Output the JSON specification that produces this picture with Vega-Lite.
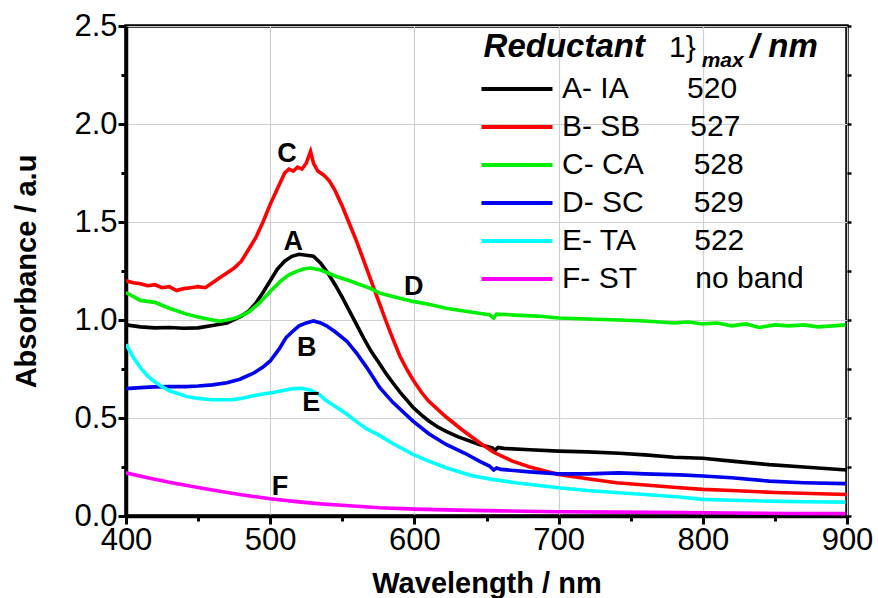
{
  "$schema": "https://vega.github.io/schema/vega-lite/v6.json",
  "width": 721,
  "height": 490,
  "autosize": {"type": "none"},
  "padding": {"left": 126, "top": 26, "right": 31, "bottom": 82},
  "background": "white",
  "config": {"view": {"stroke": "black", "strokeWidth": 3.5}, "font": "Liberation Sans"},
  "datasets": {
    "spectra": [
      {"r":"A- IA","w":400,"a":0.975},{"r":"A- IA","w":410,"a":0.965},{"r":"A- IA","w":420,"a":0.96},{"r":"A- IA","w":430,"a":0.962},{"r":"A- IA","w":440,"a":0.958},{"r":"A- IA","w":450,"a":0.96},{"r":"A- IA","w":460,"a":0.972},{"r":"A- IA","w":470,"a":0.985},{"r":"A- IA","w":480,"a":1.02},{"r":"A- IA","w":485,"a":1.045},{"r":"A- IA","w":490,"a":1.085},{"r":"A- IA","w":495,"a":1.14},{"r":"A- IA","w":500,"a":1.2},{"r":"A- IA","w":505,"a":1.26},{"r":"A- IA","w":510,"a":1.3},{"r":"A- IA","w":515,"a":1.325},{"r":"A- IA","w":520,"a":1.335},{"r":"A- IA","w":525,"a":1.33},{"r":"A- IA","w":530,"a":1.325},{"r":"A- IA","w":535,"a":1.29},{"r":"A- IA","w":540,"a":1.24},{"r":"A- IA","w":545,"a":1.18},{"r":"A- IA","w":550,"a":1.115},{"r":"A- IA","w":555,"a":1.045},{"r":"A- IA","w":560,"a":0.975},{"r":"A- IA","w":565,"a":0.905},{"r":"A- IA","w":570,"a":0.84},{"r":"A- IA","w":576,"a":0.775},{"r":"A- IA","w":580,"a":0.73},{"r":"A- IA","w":585,"a":0.68},{"r":"A- IA","w":590,"a":0.632},{"r":"A- IA","w":599,"a":0.555},{"r":"A- IA","w":605,"a":0.515},{"r":"A- IA","w":610,"a":0.485},{"r":"A- IA","w":616,"a":0.455},{"r":"A- IA","w":622,"a":0.432},{"r":"A- IA","w":630,"a":0.405},{"r":"A- IA","w":645,"a":0.365},{"r":"A- IA","w":654,"a":0.348},{"r":"A- IA","w":656,"a":0.335},{"r":"A- IA","w":658,"a":0.35},{"r":"A- IA","w":662,"a":0.345},{"r":"A- IA","w":680,"a":0.338},{"r":"A- IA","w":700,"a":0.331},{"r":"A- IA","w":720,"a":0.327},{"r":"A- IA","w":742,"a":0.32},{"r":"A- IA","w":760,"a":0.312},{"r":"A- IA","w":780,"a":0.3},{"r":"A- IA","w":800,"a":0.295},{"r":"A- IA","w":820,"a":0.28},{"r":"A- IA","w":846,"a":0.262},{"r":"A- IA","w":870,"a":0.25},{"r":"A- IA","w":900,"a":0.235},
      {"r":"B- SB","w":400,"a":1.2},{"r":"B- SB","w":405,"a":1.19},{"r":"B- SB","w":410,"a":1.185},{"r":"B- SB","w":415,"a":1.175},{"r":"B- SB","w":420,"a":1.18},{"r":"B- SB","w":425,"a":1.165},{"r":"B- SB","w":430,"a":1.17},{"r":"B- SB","w":435,"a":1.15},{"r":"B- SB","w":440,"a":1.16},{"r":"B- SB","w":445,"a":1.165},{"r":"B- SB","w":450,"a":1.17},{"r":"B- SB","w":455,"a":1.165},{"r":"B- SB","w":460,"a":1.19},{"r":"B- SB","w":465,"a":1.215},{"r":"B- SB","w":470,"a":1.24},{"r":"B- SB","w":475,"a":1.265},{"r":"B- SB","w":480,"a":1.3},{"r":"B- SB","w":485,"a":1.36},{"r":"B- SB","w":490,"a":1.42},{"r":"B- SB","w":495,"a":1.5},{"r":"B- SB","w":500,"a":1.59},{"r":"B- SB","w":505,"a":1.67},{"r":"B- SB","w":510,"a":1.75},{"r":"B- SB","w":513,"a":1.77},{"r":"B- SB","w":516,"a":1.76},{"r":"B- SB","w":519,"a":1.78},{"r":"B- SB","w":522,"a":1.77},{"r":"B- SB","w":525,"a":1.8},{"r":"B- SB","w":528,"a":1.86},{"r":"B- SB","w":530,"a":1.8},{"r":"B- SB","w":533,"a":1.76},{"r":"B- SB","w":537,"a":1.74},{"r":"B- SB","w":541,"a":1.71},{"r":"B- SB","w":545,"a":1.66},{"r":"B- SB","w":550,"a":1.58},{"r":"B- SB","w":555,"a":1.49},{"r":"B- SB","w":560,"a":1.4},{"r":"B- SB","w":565,"a":1.3},{"r":"B- SB","w":570,"a":1.2},{"r":"B- SB","w":576,"a":1.08},{"r":"B- SB","w":580,"a":1.0},{"r":"B- SB","w":585,"a":0.905},{"r":"B- SB","w":590,"a":0.815},{"r":"B- SB","w":595,"a":0.745},{"r":"B- SB","w":599,"a":0.695},{"r":"B- SB","w":605,"a":0.63},{"r":"B- SB","w":610,"a":0.585},{"r":"B- SB","w":622,"a":0.505},{"r":"B- SB","w":633,"a":0.44},{"r":"B- SB","w":645,"a":0.375},{"r":"B- SB","w":655,"a":0.325},{"r":"B- SB","w":668,"a":0.28},{"r":"B- SB","w":680,"a":0.25},{"r":"B- SB","w":700,"a":0.212},{"r":"B- SB","w":720,"a":0.19},{"r":"B- SB","w":740,"a":0.17},{"r":"B- SB","w":760,"a":0.158},{"r":"B- SB","w":784,"a":0.144},{"r":"B- SB","w":800,"a":0.136},{"r":"B- SB","w":820,"a":0.13},{"r":"B- SB","w":850,"a":0.12},{"r":"B- SB","w":875,"a":0.115},{"r":"B- SB","w":900,"a":0.11},
      {"r":"C- CA","w":400,"a":1.14},{"r":"C- CA","w":410,"a":1.1},{"r":"C- CA","w":420,"a":1.09},{"r":"C- CA","w":430,"a":1.06},{"r":"C- CA","w":442,"a":1.03},{"r":"C- CA","w":450,"a":1.015},{"r":"C- CA","w":460,"a":1.0},{"r":"C- CA","w":465,"a":0.993},{"r":"C- CA","w":470,"a":1.0},{"r":"C- CA","w":477,"a":1.012},{"r":"C- CA","w":485,"a":1.04},{"r":"C- CA","w":493,"a":1.09},{"r":"C- CA","w":500,"a":1.145},{"r":"C- CA","w":507,"a":1.197},{"r":"C- CA","w":513,"a":1.23},{"r":"C- CA","w":518,"a":1.247},{"r":"C- CA","w":523,"a":1.26},{"r":"C- CA","w":528,"a":1.265},{"r":"C- CA","w":535,"a":1.255},{"r":"C- CA","w":540,"a":1.24},{"r":"C- CA","w":546,"a":1.222},{"r":"C- CA","w":555,"a":1.2},{"r":"C- CA","w":569,"a":1.163},{"r":"C- CA","w":576,"a":1.137},{"r":"C- CA","w":585,"a":1.12},{"r":"C- CA","w":599,"a":1.095},{"r":"C- CA","w":610,"a":1.08},{"r":"C- CA","w":622,"a":1.06},{"r":"C- CA","w":640,"a":1.04},{"r":"C- CA","w":652,"a":1.027},{"r":"C- CA","w":655,"a":1.01},{"r":"C- CA","w":657,"a":1.03},{"r":"C- CA","w":670,"a":1.025},{"r":"C- CA","w":685,"a":1.02},{"r":"C- CA","w":700,"a":1.01},{"r":"C- CA","w":720,"a":1.005},{"r":"C- CA","w":742,"a":1.0},{"r":"C- CA","w":760,"a":0.995},{"r":"C- CA","w":780,"a":0.985},{"r":"C- CA","w":790,"a":0.99},{"r":"C- CA","w":800,"a":0.98},{"r":"C- CA","w":810,"a":0.985},{"r":"C- CA","w":820,"a":0.97},{"r":"C- CA","w":830,"a":0.98},{"r":"C- CA","w":839,"a":0.962},{"r":"C- CA","w":850,"a":0.975},{"r":"C- CA","w":860,"a":0.97},{"r":"C- CA","w":870,"a":0.975},{"r":"C- CA","w":880,"a":0.965},{"r":"C- CA","w":890,"a":0.97},{"r":"C- CA","w":899,"a":0.975},
      {"r":"D- SC","w":400,"a":0.65},{"r":"D- SC","w":410,"a":0.655},{"r":"D- SC","w":419,"a":0.659},{"r":"D- SC","w":430,"a":0.66},{"r":"D- SC","w":442,"a":0.66},{"r":"D- SC","w":450,"a":0.663},{"r":"D- SC","w":460,"a":0.669},{"r":"D- SC","w":470,"a":0.68},{"r":"D- SC","w":479,"a":0.698},{"r":"D- SC","w":488,"a":0.727},{"r":"D- SC","w":495,"a":0.76},{"r":"D- SC","w":500,"a":0.791},{"r":"D- SC","w":506,"a":0.85},{"r":"D- SC","w":511,"a":0.91},{"r":"D- SC","w":516,"a":0.945},{"r":"D- SC","w":520,"a":0.97},{"r":"D- SC","w":525,"a":0.985},{"r":"D- SC","w":530,"a":0.995},{"r":"D- SC","w":535,"a":0.985},{"r":"D- SC","w":539,"a":0.97},{"r":"D- SC","w":545,"a":0.94},{"r":"D- SC","w":553,"a":0.893},{"r":"D- SC","w":560,"a":0.83},{"r":"D- SC","w":567,"a":0.757},{"r":"D- SC","w":576,"a":0.655},{"r":"D- SC","w":585,"a":0.58},{"r":"D- SC","w":599,"a":0.484},{"r":"D- SC","w":610,"a":0.42},{"r":"D- SC","w":622,"a":0.365},{"r":"D- SC","w":635,"a":0.32},{"r":"D- SC","w":645,"a":0.28},{"r":"D- SC","w":652,"a":0.255},{"r":"D- SC","w":655,"a":0.235},{"r":"D- SC","w":657,"a":0.245},{"r":"D- SC","w":660,"a":0.238},{"r":"D- SC","w":680,"a":0.225},{"r":"D- SC","w":700,"a":0.215},{"r":"D- SC","w":720,"a":0.215},{"r":"D- SC","w":742,"a":0.22},{"r":"D- SC","w":760,"a":0.215},{"r":"D- SC","w":784,"a":0.21},{"r":"D- SC","w":800,"a":0.204},{"r":"D- SC","w":820,"a":0.195},{"r":"D- SC","w":846,"a":0.178},{"r":"D- SC","w":870,"a":0.17},{"r":"D- SC","w":899,"a":0.165},
      {"r":"E- TA","w":400,"a":0.876},{"r":"E- TA","w":405,"a":0.81},{"r":"E- TA","w":410,"a":0.757},{"r":"E- TA","w":415,"a":0.715},{"r":"E- TA","w":419,"a":0.69},{"r":"E- TA","w":425,"a":0.66},{"r":"E- TA","w":430,"a":0.639},{"r":"E- TA","w":436,"a":0.625},{"r":"E- TA","w":442,"a":0.61},{"r":"E- TA","w":450,"a":0.6},{"r":"E- TA","w":460,"a":0.593},{"r":"E- TA","w":474,"a":0.593},{"r":"E- TA","w":480,"a":0.6},{"r":"E- TA","w":488,"a":0.613},{"r":"E- TA","w":495,"a":0.622},{"r":"E- TA","w":502,"a":0.63},{"r":"E- TA","w":510,"a":0.642},{"r":"E- TA","w":516,"a":0.65},{"r":"E- TA","w":522,"a":0.652},{"r":"E- TA","w":528,"a":0.642},{"r":"E- TA","w":534,"a":0.62},{"r":"E- TA","w":539,"a":0.588},{"r":"E- TA","w":546,"a":0.555},{"r":"E- TA","w":553,"a":0.52},{"r":"E- TA","w":560,"a":0.48},{"r":"E- TA","w":567,"a":0.444},{"r":"E- TA","w":576,"a":0.41},{"r":"E- TA","w":585,"a":0.37},{"r":"E- TA","w":599,"a":0.314},{"r":"E- TA","w":610,"a":0.28},{"r":"E- TA","w":622,"a":0.246},{"r":"E- TA","w":640,"a":0.205},{"r":"E- TA","w":654,"a":0.187},{"r":"E- TA","w":670,"a":0.17},{"r":"E- TA","w":700,"a":0.144},{"r":"E- TA","w":720,"a":0.13},{"r":"E- TA","w":742,"a":0.119},{"r":"E- TA","w":760,"a":0.11},{"r":"E- TA","w":784,"a":0.097},{"r":"E- TA","w":800,"a":0.085},{"r":"E- TA","w":820,"a":0.08},{"r":"E- TA","w":846,"a":0.076},{"r":"E- TA","w":870,"a":0.073},{"r":"E- TA","w":899,"a":0.071},
      {"r":"F- ST","w":400,"a":0.22},{"r":"F- ST","w":415,"a":0.195},{"r":"F- ST","w":430,"a":0.172},{"r":"F- ST","w":450,"a":0.145},{"r":"F- ST","w":465,"a":0.126},{"r":"F- ST","w":480,"a":0.108},{"r":"F- ST","w":500,"a":0.088},{"r":"F- ST","w":520,"a":0.072},{"r":"F- ST","w":535,"a":0.062},{"r":"F- ST","w":555,"a":0.052},{"r":"F- ST","w":576,"a":0.042},{"r":"F- ST","w":600,"a":0.035},{"r":"F- ST","w":630,"a":0.03},{"r":"F- ST","w":660,"a":0.026},{"r":"F- ST","w":700,"a":0.022},{"r":"F- ST","w":742,"a":0.02},{"r":"F- ST","w":784,"a":0.018},{"r":"F- ST","w":820,"a":0.015},{"r":"F- ST","w":860,"a":0.013},{"r":"F- ST","w":899,"a":0.012}
    ],
    "tags": [
      {"t":"C","w":511.7,"a":1.848},
      {"t":"A","w":516,"a":1.397},
      {"t":"D","w":599.5,"a":1.166},
      {"t":"B","w":525.3,"a":0.856},
      {"t":"E","w":528.5,"a":0.577},
      {"t":"F","w":506.8,"a":0.149}
    ]
  },
  "resolve": {"axis": {"y": "independent"}},
  "layer": [
    {
      "layer": [
        {
          "data": {"name": "spectra"},
          "mark": {"type": "line", "strokeWidth": 3.6, "clip": true},
          "encoding": {
            "x": {
              "field": "w", "type": "quantitative",
              "scale": {"domain": [400, 900], "nice": false, "zero": false},
              "axis": {
                "values": [400,450,500,550,600,650,700,750,800,850,900],
                "format": "d",
                "labelExpr": "datum.value % 100 === 0 ? datum.label : ''",
                "title": "Wavelength / nm",
                "titleFont": "Liberation Sans", "titleFontSize": 29, "titleFontWeight": "bold", "titleColor": "black", "titlePadding": 14,
                "labelFont": "Liberation Sans", "labelFontSize": 31, "labelColor": "black", "labelPadding": 1,
                "labelFlush": false, "labelOverlap": false,
                "tickSize": {"condition": {"test": "datum.value % 100 === 0", "value": 8}, "value": 5},
                "tickWidth": 3, "tickColor": "black",
                "domainColor": "black", "domainWidth": 3.5,
                "grid": true, "gridColor": "#d0d0d0", "gridWidth": 1.2,
                "gridOpacity": {"condition": {"test": "datum.value % 100 === 0", "value": 1}, "value": 0}
              }
            },
            "y": {
              "field": "a", "type": "quantitative",
              "scale": {"domain": [0, 2.5], "nice": false},
              "axis": {
                "values": [0,0.25,0.5,0.75,1,1.25,1.5,1.75,2,2.25,2.5],
                "format": ".1f",
                "labelExpr": "datum.value % 0.5 === 0 ? datum.label : ''",
                "title": "Absorbance / a.u",
                "titleFont": "Liberation Sans", "titleFontSize": 29, "titleFontWeight": "bold", "titleColor": "black", "titlePadding": 32,
                "labelFont": "Liberation Sans", "labelFontSize": 31, "labelColor": "black", "labelPadding": 1,
                "labelFlush": false, "labelOverlap": false,
                "tickSize": {"condition": {"test": "datum.value % 0.5 === 0", "value": 8}, "value": 5},
                "tickWidth": 3, "tickColor": "black",
                "domainColor": "black", "domainWidth": 3.5,
                "grid": true, "gridColor": "#d0d0d0", "gridWidth": 1.2,
                "gridOpacity": {"condition": {"test": "datum.value % 0.5 === 0", "value": 1}, "value": 0}
              }
            },
            "color": {
              "field": "r", "type": "nominal",
              "scale": {"domain": ["A- IA","B- SB","C- CA","D- SC","E- TA","F- ST"], "range": ["#000000","#ff0000","#00ee00","#0000ee","#00ffff","#ff00ff"]},
              "legend": {
                "orient": "none", "legendX": 376, "legendY": 48, "title": null, "padding": 0,
                "symbolType": "M-3.55,0H3.55", "symbolSize": 400, "symbolStrokeWidth": 4, "symbolOffset": 0,
                "labelFont": "Liberation Sans", "labelFontSize": 30, "labelColor": "black", "labelOffset": 30, "labelLimit": 500,
                "rowPadding": 8,
                "labelExpr": "datum.label == 'A- IA' ? 'A- IA\u00a0\u00a0\u00a0\u00a0\u00a0\u00a0\u00a0520' : datum.label == 'B- SB' ? 'B- SB\u00a0\u00a0\u00a0\u00a0\u00a0\u00a0527' : datum.label == 'C- CA' ? 'C- CA\u00a0\u00a0\u00a0\u00a0\u00a0\u00a0528' : datum.label == 'D- SC' ? 'D- SC\u00a0\u00a0\u00a0\u00a0\u00a0\u00a0529' : datum.label == 'E- TA' ? 'E- TA\u00a0\u00a0\u00a0\u00a0\u00a0\u00a0\u00a0522' : 'F- ST\u00a0\u00a0\u00a0\u00a0\u00a0\u00a0\u00a0no band'"
              }
            }
          }
        },
        {
          "data": {"name": "tags"},
          "mark": {"type": "text", "font": "Liberation Sans", "fontSize": 27, "fontWeight": "bold", "color": "black", "align": "center", "baseline": "middle"},
          "encoding": {
            "x": {"field": "w", "type": "quantitative"},
            "y": {"field": "a", "type": "quantitative"},
            "text": {"field": "t"}
          }
        },
        {
          "data": {"values": [{}]},
          "mark": {"type": "text", "text": "Reductant", "font": "Liberation Sans", "fontSize": 33, "fontWeight": "bold", "fontStyle": "italic", "color": "black", "align": "left", "baseline": "alphabetic"},
          "encoding": {"x": {"datum": 648}, "y": {"datum": 2.343}}
        },
        {
          "data": {"values": [{}]},
          "mark": {"type": "text", "text": "1}", "font": "Liberation Sans", "fontSize": 30, "color": "black", "align": "left", "baseline": "alphabetic"},
          "encoding": {"x": {"datum": 776.6}, "y": {"datum": 2.343}}
        },
        {
          "data": {"values": [{}]},
          "mark": {"type": "text", "text": "max", "font": "Liberation Sans", "fontSize": 21, "fontWeight": "bold", "fontStyle": "italic", "color": "black", "align": "left", "baseline": "alphabetic"},
          "encoding": {"x": {"datum": 799.2}, "y": {"datum": 2.292}}
        },
        {
          "data": {"values": [{}]},
          "mark": {"type": "text", "text": "/ nm", "font": "Liberation Sans", "fontSize": 33, "fontWeight": "bold", "fontStyle": "italic", "color": "black", "align": "left", "baseline": "alphabetic"},
          "encoding": {"x": {"datum": 832.7}, "y": {"datum": 2.343}}
        }
      ]
    },
    {
      "data": {"values": [{}]},
      "mark": {"type": "text", "text": ""},
      "encoding": {
        "y": {
          "datum": 1, "type": "quantitative",
          "axis": {
            "orient": "right", "labels": false, "domain": false, "grid": false, "title": null,
            "values": [0,0.25,0.5,0.75,1,1.25,1.5,1.75,2,2.25,2.5],
            "ticks": true, "tickSize": 4, "tickWidth": 2.5, "tickColor": "black"
          }
        }
      }
    }
  ]
}
